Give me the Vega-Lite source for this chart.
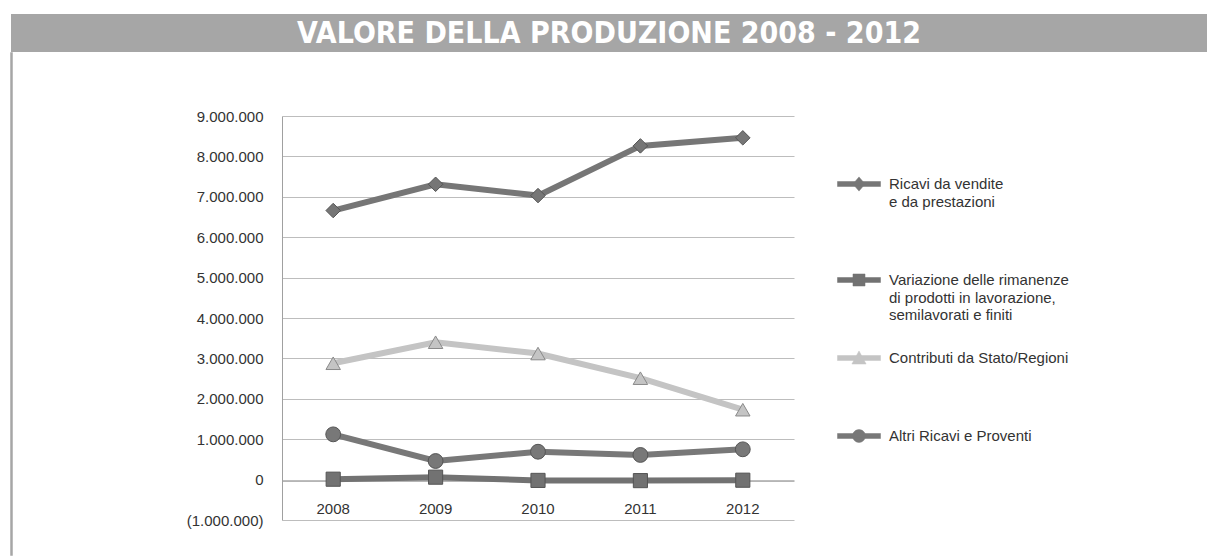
{
  "$schema": "https://vega.github.io/schema/vega-lite/v6.json",
  "padding": {"left": 10, "top": 14, "right": 0, "bottom": 0},
  "background": "white",
  "config": {"view": {"stroke": null}, "font": "Liberation Sans"},
  "spacing": 0,
  "vconcat": [
    {
      "width": 1196,
      "height": 38,
      "view": {"fill": "#a6a6a6", "stroke": null},
      "data": {"values": [{"title": "VALORE DELLA PRODUZIONE 2008 - 2012"}]},
      "mark": {"type": "text", "font": "DejaVu Sans Condensed, Liberation Sans", "fontWeight": "bold", "fontSize": 30, "color": "white", "baseline": "middle", "align": "center", "dy": 1},
      "encoding": {"text": {"field": "title"}}
    },
    {
      "spacing": 0,
      "hconcat": [
        {
          "width": 1,
          "height": 502,
          "view": {"stroke": "#a6a6a6", "strokeWidth": 1.5},
          "data": {"values": []},
          "mark": "text",
          "encoding": {}
        },
        {
          "width": 1195,
          "height": 504,
          "data": {"values": [
            {"series": "Ricavi da vendite e da prestazioni", "year": "2008", "value": 6660000},
            {"series": "Ricavi da vendite e da prestazioni", "year": "2009", "value": 7310000},
            {"series": "Ricavi da vendite e da prestazioni", "year": "2010", "value": 7030000},
            {"series": "Ricavi da vendite e da prestazioni", "year": "2011", "value": 8260000},
            {"series": "Ricavi da vendite e da prestazioni", "year": "2012", "value": 8460000},
            {"series": "Variazione delle rimanenze di prodotti in lavorazione, semilavorati e finiti", "year": "2008", "value": 10000},
            {"series": "Variazione delle rimanenze di prodotti in lavorazione, semilavorati e finiti", "year": "2009", "value": 60000},
            {"series": "Variazione delle rimanenze di prodotti in lavorazione, semilavorati e finiti", "year": "2010", "value": -20000},
            {"series": "Variazione delle rimanenze di prodotti in lavorazione, semilavorati e finiti", "year": "2011", "value": -25000},
            {"series": "Variazione delle rimanenze di prodotti in lavorazione, semilavorati e finiti", "year": "2012", "value": -15000},
            {"series": "Contributi da Stato/Regioni", "year": "2008", "value": 2880000},
            {"series": "Contributi da Stato/Regioni", "year": "2009", "value": 3400000},
            {"series": "Contributi da Stato/Regioni", "year": "2010", "value": 3120000},
            {"series": "Contributi da Stato/Regioni", "year": "2011", "value": 2510000},
            {"series": "Contributi da Stato/Regioni", "year": "2012", "value": 1730000},
            {"series": "Altri Ricavi e Proventi", "year": "2008", "value": 1120000},
            {"series": "Altri Ricavi e Proventi", "year": "2009", "value": 460000},
            {"series": "Altri Ricavi e Proventi", "year": "2010", "value": 690000},
            {"series": "Altri Ricavi e Proventi", "year": "2011", "value": 610000},
            {"series": "Altri Ricavi e Proventi", "year": "2012", "value": 750000}
          ]},
          "encoding": {
            "x": {
              "field": "year", "type": "ordinal",
              "scale": {"type": "band", "range": [269, 781], "paddingInner": 0, "paddingOuter": 0},
              "axis": {"orient": "bottom", "offset": -76, "title": null, "labelAngle": 0, "ticks": false, "grid": false, "domain": true, "domainColor": "#b5b5b5", "labelPadding": 20, "labelFontSize": 15, "labelColor": "#333333", "labelFont": "Liberation Sans"}
            },
            "y": {
              "field": "value", "type": "quantitative",
              "scale": {"domain": [-1000000, 9000000], "range": [467, 63], "nice": false, "zero": false},
              "axis": {
                "orient": "left", "offset": -269, "title": null,
                "values": [-1000000, 0, 1000000, 2000000, 3000000, 4000000, 5000000, 6000000, 7000000, 8000000, 9000000],
                "labelExpr": "replace(format(datum.value, '(,d'), regexp(',', 'g'), '.')",
                "ticks": false, "grid": true, "gridColor": "#bdbdbd", "gridWidth": 1,
                "domain": true, "domainColor": "#a0a0a0", "labelPadding": 19,
                "labelFontSize": 15, "labelColor": "#333333", "labelFont": "Liberation Sans"
              }
            },
            "color": {
              "field": "series", "type": "nominal",
              "scale": {
                "domain": ["Ricavi da vendite e da prestazioni", "Variazione delle rimanenze di prodotti in lavorazione, semilavorati e finiti", "Contributi da Stato/Regioni", "Altri Ricavi e Proventi"],
                "range": ["#767676", "#727272", "#c4c4c4", "#787878"]
              },
              "legend": {
                "orient": "none", "legendX": 826, "legendY": 148, "title": null, "padding": 0,
                "labelFontSize": 15, "labelColor": "#333333", "labelFont": "Liberation Sans", "labelLimit": 400,
                "labelOffset": 8, "rowPadding": 13, "symbolSize": 1849,
                "labelExpr": "datum.label === 'Ricavi da vendite e da prestazioni' ? ['Ricavi da vendite', 'e da prestazioni', '', ''] : datum.label === 'Variazione delle rimanenze di prodotti in lavorazione, semilavorati e finiti' ? ['Variazione delle rimanenze', 'di prodotti in lavorazione,', 'semilavorati e finiti'] : datum.label === 'Contributi da Stato/Regioni' ? ['Contributi da Stato/Regioni', '', ''] : datum.label",
                "encode": {
                  "labels": {"update": {"lineHeight": {"value": 17.5}}},
                  "symbols": {"update": {
                    "shape": {"signal": "datum.value === 'Ricavi da vendite e da prestazioni' ? 'M-1,-0.116L1,-0.116L1,0.116L-1,0.116Z M0,-0.33L0.28,0L0,0.33L-0.28,0Z' : datum.value === 'Contributi da Stato/Regioni' ? 'M-1,-0.116L1,-0.116L1,0.116L-1,0.116Z M0,-0.33L0.33,0.28L-0.33,0.28Z' : datum.value === 'Altri Ricavi e Proventi' ? 'M-1,-0.116L1,-0.116L1,0.116L-1,0.116Z M-0.3,0A0.3,0.3 0 1 1 0.3,0A0.3,0.3 0 1 1 -0.3,0Z' : 'M-1,-0.116L1,-0.116L1,0.116L-1,0.116Z M-0.28,-0.28L0.28,-0.28L0.28,0.28L-0.28,0.28Z'"},
                    "fill": {"scale": "color", "field": "value"},
                    "stroke": {"value": "#666666"},
                    "strokeWidth": {"value": 0.5},
                    "size": {"value": 1849},
                    "opacity": {"value": 1}
                  }}
                }
              }
            }
          },
          "layer": [
            {"mark": {"type": "line", "strokeWidth": 6}},
            {
              "transform": [{"filter": {"field": "series", "equal": "Ricavi da vendite e da prestazioni"}}],
              "mark": {"type": "point", "shape": "diamond", "filled": true, "opacity": 1, "size": 210, "stroke": "#555555", "strokeWidth": 1}
            },
            {
              "transform": [{"filter": {"field": "series", "equal": "Variazione delle rimanenze di prodotti in lavorazione, semilavorati e finiti"}}],
              "mark": {"type": "point", "shape": "square", "filled": true, "opacity": 1, "size": 200, "stroke": "#555555", "strokeWidth": 1}
            },
            {
              "transform": [{"filter": {"field": "series", "equal": "Contributi da Stato/Regioni"}}],
              "mark": {"type": "point", "shape": "triangle-up", "filled": true, "opacity": 1, "size": 210, "stroke": "#8a8a8a", "strokeWidth": 1}
            },
            {
              "transform": [{"filter": {"field": "series", "equal": "Altri Ricavi e Proventi"}}],
              "mark": {"type": "point", "shape": "circle", "filled": true, "opacity": 1, "size": 220, "stroke": "#555555", "strokeWidth": 1}
            }
          ]
        }
      ]
    }
  ]
}
